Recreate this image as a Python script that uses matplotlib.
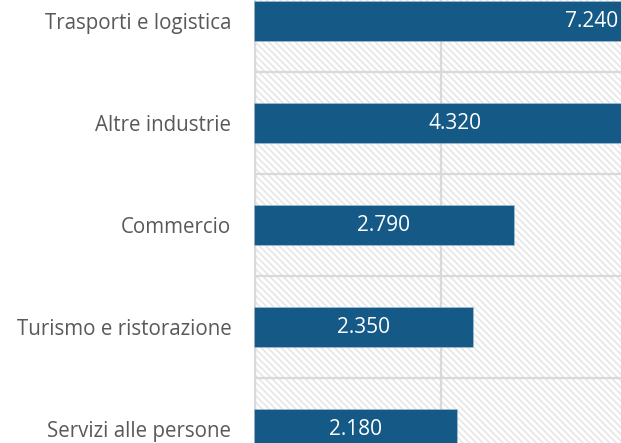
import matplotlib.pyplot as plt
from matplotlib.patches import Rectangle

# Data
categories = ["Trasporti e logistica", "Altre industrie", "Commercio",
              "Turismo e ristorazione", "Servizi alle persone"]
values = [7240, 4320, 2790, 2350, 2180]
value_labels = ["7.240", "4.320", "2.790", "2.350", "2.180"]

bar_color = "#155a87"
grid_color = "#d9d9d9"
plt.rcParams['font.family'] = ['Open Sans', 'DejaVu Sans']
plt.rcParams['hatch.linewidth'] = 1.2
plt.rcParams['hatch.color'] = "#e6e6e6"

fig = plt.figure(figsize=(6.21, 4.43), dpi=100)
ax = fig.add_axes([253.5 / 621, 0, 1 - 253.5 / 621, 1])

# hatched background of the plot area
bg = Rectangle((0, 0), 1, 1, transform=ax.transAxes, facecolor="white",
               edgecolor="#e6e6e6", hatch="\\\\\\\\\\", linewidth=0, zorder=0)
ax.add_patch(bg)

y = list(range(len(categories)))
bars = ax.barh(y, values, height=0.4, color=bar_color, edgecolor="#a9c4d8",
               linewidth=0.4, zorder=3)

for i in range(len(values)):
    ax.text(values[i] / 2, y[i], value_labels[i], ha="center", va="center",
            color="white", fontsize=15, zorder=4)

ax.set_yticks(y)
ax.set_yticklabels(categories, fontsize=14.8, color="#595959")
ax.set_yticks([0.5, 1.5, 2.5, 3.5], minor=True)
ax.set_xticks([0, 2000, 4000])
ax.tick_params(axis="y", which="both", length=0, pad=16)
ax.tick_params(axis="x", length=0, labelbottom=False)

# limits after the ticks, otherwise set_xticks widens the view
ax.set_xlim(0, 3930)
ax.set_ylim(4.137, -0.206)

ax.grid(axis="x", color=grid_color, linewidth=1.6, zorder=1)
ax.grid(axis="y", which="minor", color=grid_color, linewidth=1.6, zorder=1)
ax.set_axisbelow(True)
for s in ax.spines.values():
    s.set_visible(False)
ax.axvline(0, color=grid_color, linewidth=2.5, zorder=1)

fig.savefig("out.png", dpi=100)
